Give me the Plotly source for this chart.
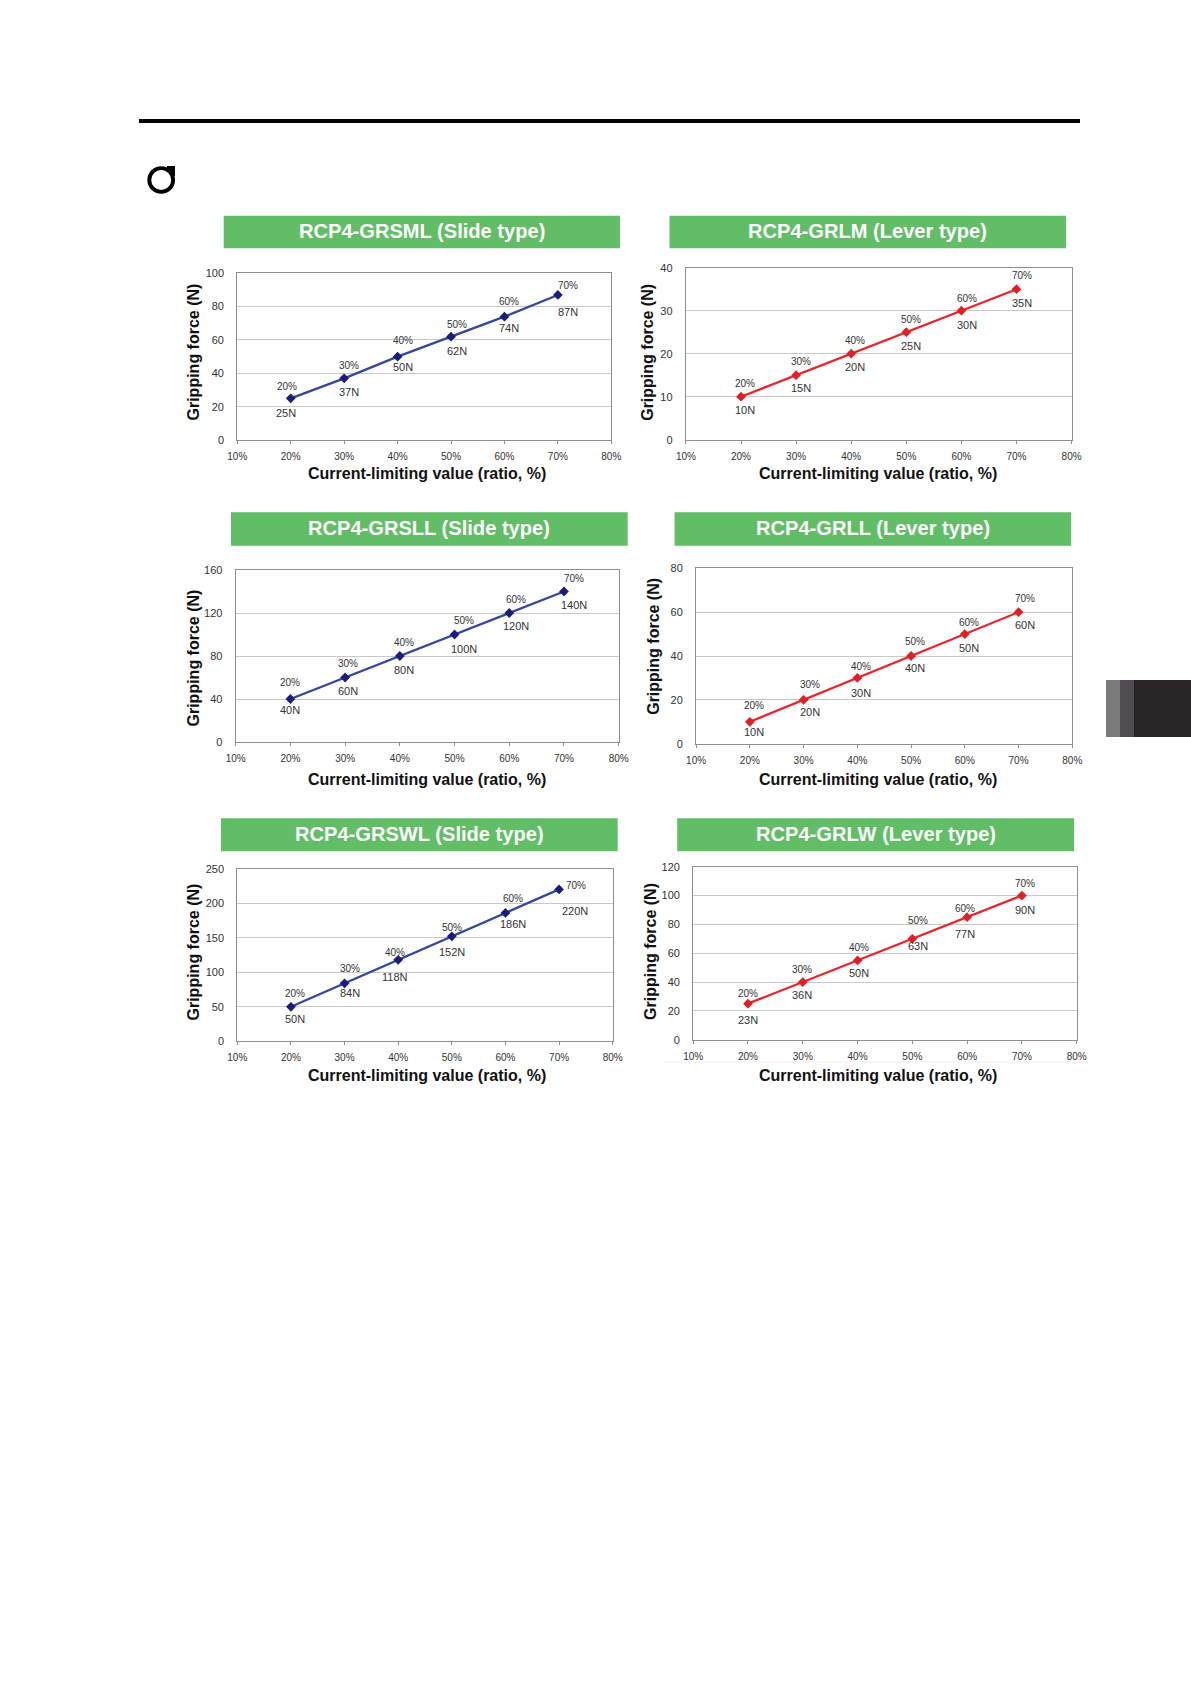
import plotly.graph_objects as go

W, H = 1191, 1684
FONT = "Liberation Sans"

ratios = [20, 30, 40, 50, 60, 70]

titles = ["RCP4-GRSML (Slide type)", "RCP4-GRLM (Lever type)",
          "RCP4-GRSLL (Slide type)", "RCP4-GRLL (Lever type)",
          "RCP4-GRSWL (Slide type)", "RCP4-GRLW (Lever type)"]

force_grsml = [25, 37, 50, 62, 74, 87]
force_grlm = [10, 15, 20, 25, 30, 35]
force_grsll = [40, 60, 80, 100, 120, 140]
force_grll = [10, 20, 30, 40, 50, 60]
force_grswl = [50, 84, 118, 152, 186, 220]
force_grlw = [25, 40, 55, 70, 85, 100]
forces = [force_grsml, force_grlm, force_grsll, force_grll, force_grswl, force_grlw]

labels_grsml = [25, 37, 50, 62, 74, 87]
labels_grlm = [10, 15, 20, 25, 30, 35]
labels_grsll = [40, 60, 80, 100, 120, 140]
labels_grll = [10, 20, 30, 40, 50, 60]
labels_grswl = [50, 84, 118, 152, 186, 220]
labels_grlw = [23, 36, 50, 63, 77, 90]
n_labels = [labels_grsml, labels_grlm, labels_grsll, labels_grll, labels_grswl, labels_grlw]

y_max = [100, 40, 160, 80, 250, 120]
y_step = [20, 10, 40, 20, 50, 20]

# layout in page pixels
plot_boxes = [(237.3, 611.3, 273.3, 440), (685.9, 1071.6, 267.7, 439.7),
              (235.7, 618.7, 570, 742), (696.1, 1072.3, 568.3, 743.7),
              (237.3, 612.7, 868.7, 1041.3), (693.2, 1076.7, 866.7, 1039.7)]
header_boxes = [(223.7, 620, 215.7, 248.3), (669.5, 1066.1, 215.7, 248.3),
                (231, 627.7, 512.3, 545.7), (674.6, 1071.2, 512.3, 545.7),
                (221, 617.7, 818.3, 851.3), (677.2, 1074.1, 818.3, 851.3)]
xtitle_pos = [(427.4, 473.3), (878.2, 473.3), (427.4, 779.5), (878.2, 779.5), (427.4, 1075.7), (878.2, 1075.7)]
ytitle_pos = [(193, 352.5), (647.3, 352.5), (193, 658.5), (652.8, 646), (193, 952.5), (649.9, 951)]

pct_dx = [[-4, 4.7, 5.3, 6.3, 4.7, 10.3], [3.6, 5.1, 4, 5.1, 5.5, 5.5],
          [0, 3.3, 4, 9.3, 6.7, 10.3], [4, 6.2, 3.3, 4, 4.4, 6.2],
          [3.7, 5.7, -3, 0.3, 7.3, 16.7], [-0.3, -0.8, 1.9, 5.8, -1.9, 3.3]]
pct_dy = [[-12, -13, -16, -12.3, -14.7, -9.7], [-13.3, -13.7, -13, -13, -12, -13.3],
          [-16.7, -14.3, -13.3, -13.7, -14, -13.3], [-16, -15, -11.7, -14.3, -12, -13.7],
          [-13, -15, -7.7, -9.3, -14, -3.7], [-10, -12.3, -12.7, -18.7, -9, -12]]
n_dx = [[-4.7, 5, 5, 6.3, 4.7, 10], [3.6, 5.1, 4, 4.7, 5.5, 5.1],
        [-0.7, 3.3, 4, 9.3, 6.7, 10.3], [4, 6.2, 3.3, 4, 4.4, 6.2],
        [3.7, 5.7, -3, 0.3, 7.3, 16.3], [-0.3, -0.8, 1.9, 5.8, -1.9, 3.3]]
n_dy = [[14.7, 13.7, 10, 14.3, 11.7, 17], [13, 13, 13.7, 13.7, 14.7, 13.3],
        [10.7, 13.7, 14.3, 14, 13, 13.7], [10.3, 11.7, 15, 12.3, 14.3, 12.7],
        [12, 9.7, 17, 15.7, 11, 21.3], [16.7, 13, 13, 7.7, 17.3, 14]]

BLUE_LINE, BLUE_MARK = "#33479d", "#1c1c7c"
RED_LINE, RED_MARK = "#e8252c", "#e01f26"
GREEN = "#62bd67"
TEXT = "#333333"
GRID = "#c9c9c9"
FRAME = "#8f8f8f"


def px(x):
    return x / W


def py(y):
    return 1 - y / H


fig = go.Figure()
shapes = []
annotations = []


def page_rect(x0, x1, y0, y1, color):
    shapes.append(dict(type="rect", xref="paper", yref="paper", x0=px(x0), x1=px(x1),
                       y0=py(y1), y1=py(y0), fillcolor=color, line_width=0, layer="below"))


def page_circle(cx, cy, r, color):
    shapes.append(dict(type="circle", xref="paper", yref="paper", x0=px(cx - r), x1=px(cx + r),
                       y0=py(cy + r), y1=py(cy - r), fillcolor=color, line_width=0, layer="below"))


# page furniture
page_rect(139, 1080, 119, 123, "#000000")
page_circle(161.2, 180, 13.85, "#000000")
page_rect(167, 175, 166, 176, "#000000")
page_circle(161.2, 180, 10, "#ffffff")
page_rect(1106, 1120, 680, 737, "#7a7a7a")
page_rect(1120, 1134, 680, 737, "#4f4d4f")
page_rect(1134, 1191, 680, 737, "#282527")
page_rect(664, 1088, 1061.5, 1062.5, "#efefef")

layout_axes = {}
for i, title in enumerate(titles):
    suffix = "" if i == 0 else str(i + 1)
    x0, x1, y0, y1 = plot_boxes[i]
    hx0, hx1, hy0, hy1 = header_boxes[i]
    is_lever = i % 2 == 1
    line_c = RED_LINE if is_lever else BLUE_LINE
    mark_c = RED_MARK if is_lever else BLUE_MARK

    fig.add_trace(go.Scatter(
        x=ratios, y=forces[i], mode="lines+markers", xaxis="x" + suffix, yaxis="y" + suffix,
        line=dict(color=line_c, width=2.3),
        marker=dict(symbol="diamond", size=7.5, color=mark_c),
        showlegend=False, hoverinfo="skip"))

    layout_axes["xaxis" + suffix] = dict(
        domain=[px(x0), px(x1)], anchor="y" + suffix, range=[10, 80], dtick=10, tick0=10,
        ticksuffix="%", ticks="outside", ticklen=3, tickcolor=FRAME, tickwidth=1, automargin=False,
        ticklabelstandoff=4, tickfont=dict(family=FONT, size=10, color=TEXT),
        showgrid=False, zeroline=False, showline=True, linecolor=FRAME, linewidth=1.2, mirror=True)
    layout_axes["yaxis" + suffix] = dict(
        domain=[py(y1), py(y0)], anchor="x" + suffix, range=[0, y_max[i]], dtick=y_step[i], tick0=0,
        ticks="", ticklabelstandoff=10, tickfont=dict(family=FONT, size=11, color=TEXT), automargin=False,
        showgrid=True, gridcolor=GRID, gridwidth=1.2, zeroline=False,
        showline=True, linecolor=FRAME, linewidth=1.2, mirror=True)

    # green header band and title
    page_rect(hx0, hx1, hy0, hy1, GREEN)
    annotations.append(dict(xref="paper", yref="paper", x=px((hx0 + hx1) / 2), y=py((hy0 + hy1) / 2 - 0.7),
                            text=title, showarrow=False, xanchor="center", yanchor="middle",
                            font=dict(family=FONT, size=20.1, color="#ffffff", weight="bold")))

    # axis titles
    tx, ty = xtitle_pos[i]
    annotations.append(dict(xref="paper", yref="paper", x=px(tx), y=py(ty),
                            text="Current-limiting value (ratio, %)", showarrow=False,
                            xanchor="center", yanchor="middle",
                            font=dict(family=FONT, size=16, color="#111111", weight="bold")))
    tx, ty = ytitle_pos[i]
    annotations.append(dict(xref="paper", yref="paper", x=px(tx), y=py(ty),
                            text="Gripping force (N)", textangle=-90, showarrow=False,
                            xanchor="center", yanchor="middle",
                            font=dict(family=FONT, size=16, color="#111111", weight="bold")))

    # point labels
    for j, r in enumerate(ratios):
        annotations.append(dict(xref="x" + suffix, yref="y" + suffix, x=r, y=forces[i][j],
                                text=f"{r}%", showarrow=False, xanchor="center", yanchor="middle",
                                xshift=pct_dx[i][j], yshift=-pct_dy[i][j],
                                font=dict(family=FONT, size=10, color=TEXT)))
        annotations.append(dict(xref="x" + suffix, yref="y" + suffix, x=r, y=forces[i][j],
                                text=f"{n_labels[i][j]}N", showarrow=False, xanchor="center", yanchor="middle",
                                xshift=n_dx[i][j], yshift=-n_dy[i][j],
                                font=dict(family=FONT, size=11, color=TEXT)))

fig.update_layout(width=W, height=H, margin=dict(l=0, r=0, t=0, b=0, autoexpand=False), paper_bgcolor="#ffffff",
                  plot_bgcolor="#ffffff", showlegend=False, shapes=shapes, annotations=annotations,
                  **layout_axes)

fig.write_html("out.html", config={"displayModeBar": False},
               post_script="document.body.style.margin='0';document.documentElement.style.overflow='hidden';")
